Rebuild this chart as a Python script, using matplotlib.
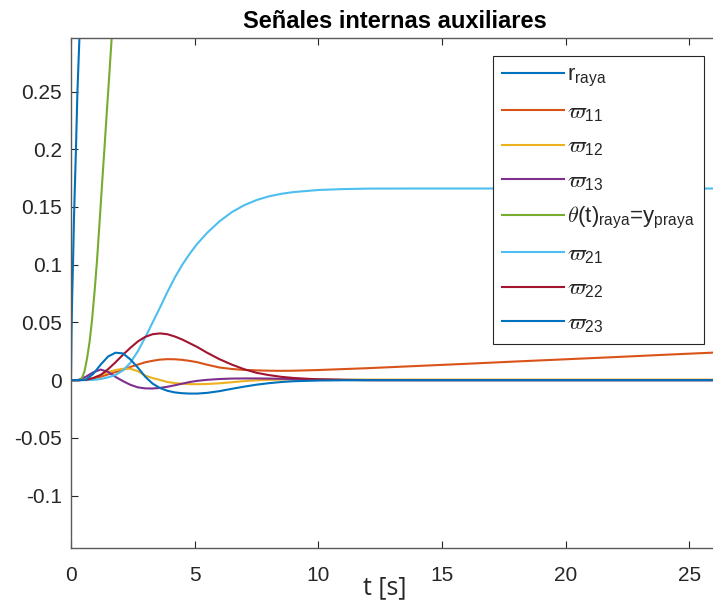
import matplotlib
matplotlib.use("Agg")
import matplotlib.pyplot as plt

plt.rcParams["font.family"] = ["Liberation Sans", "DejaVu Sans"]
plt.rcParams["mathtext.fontset"] = "cm"

# ---- data -------------------------------------------------------------
# reference trajectory (leaves the visible range almost immediately)
t_r = [0, 0.02, 0.05, 0.08, 0.12, 0.16, 0.20, 0.26, 0.34, 0.45]
r_raya = [0, 0.040, 0.075, 0.100, 0.140, 0.170, 0.200, 0.250, 0.296, 0.380]

# filtered angle
t_th = [0, 0.35, 0.45, 0.55, 0.65, 0.75, 0.85, 0.95, 1.05, 1.15, 1.25,
        1.35, 1.45, 1.55, 1.645, 1.80]
theta_raya = [0, 0, 0.002, 0.008, 0.019, 0.033, 0.052, 0.076, 0.103, 0.135,
              0.168, 0.200, 0.233, 0.265, 0.2966, 0.350]

# common time base for the auxiliary states
t_aux = [0, 0.3, 0.6, 0.9, 1.2, 1.5, 1.8, 2.1, 2.4, 2.7, 3.0, 3.3, 3.6, 3.9,
         4.2, 4.5, 4.8, 5.1, 5.5, 6.0, 6.5, 7.0, 7.5, 8.0, 8.5, 9.0, 10, 11,
         12, 14, 16, 18, 20, 22, 24, 26, 27]

w11 = [0, 0, 0.0003, 0.0015, 0.0030, 0.0050, 0.0070, 0.0090, 0.0115, 0.0135,
       0.0155, 0.0168, 0.0178, 0.0182, 0.0181, 0.0176, 0.0167, 0.0156, 0.0134,
       0.0110, 0.0097, 0.0089, 0.0085, 0.0082, 0.0081, 0.0082, 0.0088, 0.0096,
       0.0104, 0.0123, 0.0142, 0.0162, 0.0181, 0.0200, 0.0220, 0.0239, 0.0249]

w12 = [0, 0, 0.0005, 0.0020, 0.0045, 0.0070, 0.0088, 0.0099, 0.0099, 0.0078,
       0.0040, 0.0018, 0.0002, -0.0016, -0.0025, -0.0031, -0.0034, -0.0035,
       -0.0033, -0.0027, -0.0018, -0.0008, -0.0001, 0.0003, 0.0005, 0.0006,
       0.0006, 0.0005, 0.0005, 0.0005, 0.0005, 0.0005, 0.0005, 0.0005, 0.0005,
       0.0005, 0.0005]

w13 = [0, 0.0002, 0.0030, 0.0068, 0.0092, 0.0072, 0.0028, -0.0008, -0.0040,
       -0.0062, -0.0071, -0.0072, -0.0067, -0.0057, -0.0044, -0.0030, -0.0016,
       -0.0006, 0.0003, 0.0010, 0.0014, 0.0015, 0.0015, 0.0014, 0.0012, 0.0010,
       0.0006, 0.0003, 0.0001, 0, 0, 0, 0, 0, 0, 0, 0]

w21 = [0, 0, 0, 0.0003, 0.0010, 0.0025, 0.0045, 0.0085, 0.0150, 0.0250,
       0.0370, 0.0500, 0.0630, 0.0765, 0.0890, 0.1000, 0.1095, 0.1180, 0.1275,
       0.1375, 0.1455, 0.1515, 0.1560, 0.1592, 0.1614, 0.1629, 0.1647, 0.1655,
       0.1659, 0.1660, 0.1660, 0.1660, 0.1660, 0.1660, 0.1660, 0.1660, 0.1660]

w22 = [0, 0, 0.0003, 0.0018, 0.0045, 0.0095, 0.0155, 0.0220, 0.0280, 0.0335,
       0.0375, 0.0398, 0.0405, 0.0398, 0.0378, 0.0352, 0.0320, 0.0288, 0.0238,
       0.0182, 0.0135, 0.0095, 0.0064, 0.0044, 0.0029, 0.0019, 0.0007, 0.0002,
       0, 0, 0, 0, 0, 0, 0, 0, 0]

w23 = [0, 0, 0.0005, 0.0055, 0.0135, 0.0205, 0.0238, 0.0232, 0.0180, 0.0110,
       0.0030, -0.0030, -0.0068, -0.0092, -0.0106, -0.0113, -0.0116, -0.0116,
       -0.0110, -0.0095, -0.0075, -0.0056, -0.0039, -0.0026, -0.0016, -0.0009,
       -0.0003, -0.0001, 0, 0, 0, 0, 0, 0, 0, 0, 0]

x_ticks = [0, 5, 10, 15, 20, 25]
y_ticks = [-0.1, -0.05, 0, 0.05, 0.1, 0.15, 0.2, 0.25]
y_tick_labels = ["-0.1", "-0.05", "0", "0.05", "0.1", "0.15", "0.2", "0.25"]

series = [
    (t_r, r_raya, "#0072BD", r"$\mathregular{r_{raya}}$"),
    (t_aux, w11, "#D95319", r"$\varpi_{\mathregular{11}}$"),
    (t_aux, w12, "#EDB120", r"$\varpi_{\mathregular{12}}$"),
    (t_aux, w13, "#7E2F8E", r"$\varpi_{\mathregular{13}}$"),
    (t_th, theta_raya, "#77AC30",
     r"$\theta\mathregular{(t)_{raya}}$=$\mathregular{y_{praya}}$"),
    (t_aux, w21, "#4DBEEE", r"$\varpi_{\mathregular{21}}$"),
    (t_aux, w22, "#A2142F", r"$\varpi_{\mathregular{22}}$"),
    (t_aux, w23, "#0072BD", r"$\varpi_{\mathregular{23}}$"),
]

# ---- figure -----------------------------------------------------------
W, H = 713, 600
fig = plt.figure(figsize=(W / 100, H / 100), dpi=100)
left, right, top, bottom = 71, 719, 37.7, 548.3
ax = fig.add_axes([left / W, 1 - bottom / H, (right - left) / W, (bottom - top) / H])

for t, y, c, lab in series:
    ax.plot(t, y, color=c, lw=1.5, label=lab)

ax.set_xlim(0, 26.2)
ax.set_ylim(-0.1456, 0.2966)
ax.set_xticks(x_ticks)
ax.set_yticks(y_ticks)
ax.set_yticklabels(y_tick_labels)

axis_col = "#5a5a5a"
for s in ax.spines.values():
    s.set_color(axis_col)
    s.set_linewidth(1.0)
ax.tick_params(direction="in", length=4.8, width=0.8, color="#262626",
               top=True, right=False, labelsize=15, labelcolor="#262626")
ax.tick_params(axis="x", pad=13)
ax.tick_params(axis="y", pad=6.5)

ax.set_title("Señales internas auxiliares", fontsize=17, fontweight="bold",
             pad=6.8, color="black")

fig.text(385 / W, 1 - 594 / H, "t [s]", family="Open Sans", fontsize=18,
         ha="center", va="baseline", color="#262626")

leg = ax.legend(loc="upper right", bbox_to_anchor=(704 / W, 1 - 55.7 / H),
                bbox_transform=fig.transFigure, borderaxespad=0, fontsize=16,
                frameon=True, fancybox=False, edgecolor="#262626",
                framealpha=1, borderpad=0.4, labelspacing=0.57,
                handlelength=2.8, handletextpad=0.15)
leg.get_frame().set_linewidth(0.8)
for txt in leg.get_texts():
    txt.set_color("#262626")

fig.savefig("out.png", dpi=100)
